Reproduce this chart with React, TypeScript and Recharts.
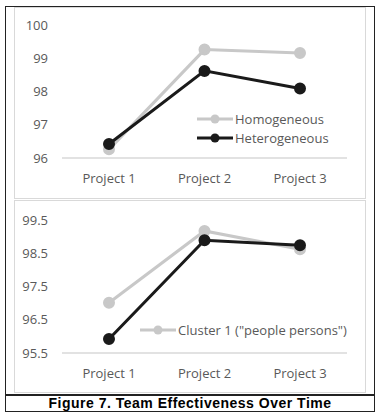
import { LineChart, Line, XAxis, YAxis, Legend } from 'recharts'

const projects = ['Project 1', 'Project 2', 'Project 3']
const homogeneous = [96.26, 99.26, 99.16]
const heterogeneous = [96.42, 98.62, 98.09]
const cluster1 = [97.01, 99.17, 98.62]
const cluster2 = [95.92, 98.89, 98.74]
const topTicks = [96, 97, 98, 99, 100]
const bottomTicks = [95.5, 96.5, 97.5, 98.5, 99.5]

const GRAY = '#c8c8c8'
const BLACK = '#1a1a1a'
const TEXT = '#595959'
const FONT = '"Open Sans", sans-serif'

const topData = projects.map((p, i) => ({ name: p, homogeneous: homogeneous[i], heterogeneous: heterogeneous[i] }))
const bottomData = projects.map((p, i) => ({ name: p, cluster1: cluster1[i], cluster2: cluster2[i] }))

const LegendRows = ({ rows }: { rows: { label: string; color: string }[] }) => (
    <div style={{ fontFamily: FONT, fontSize: 13, color: TEXT }}>
        {rows.map((r) => (
            <div key={r.label} style={{ display: 'flex', alignItems: 'center', height: 19, whiteSpace: 'nowrap' }}>
                <svg width={36} height={10} style={{ marginRight: 2 }}>
                    <line x1={0} y1={5} x2={36} y2={5} stroke={r.color} strokeWidth={3} />
                    <circle cx={18} cy={5} r={4.5} fill={r.color} />
                </svg>
                <span>{r.label}</span>
            </div>
        ))}
    </div>
)

function Panel({ data, keys, ticks, domain, legendRows, legendPos }: any) {
    return (
        <LineChart width={381} height={200} data={data} margin={{ top: 25, right: 34, left: 22, bottom: 12 }}>
            <XAxis
                dataKey="name"
                padding={{ left: 47, right: 47 }}
                axisLine={{ stroke: '#d9d9d9', strokeWidth: 1.5 }}
                tickLine={false}
                tickMargin={10}
                height={30}
                tick={{ fill: TEXT, fontSize: 13, fontFamily: FONT }}
            />
            <YAxis
                type="number"
                domain={domain}
                ticks={ticks}
                axisLine={false}
                tickLine={false}
                width={40}
                tickMargin={8}
                tick={{ fill: TEXT, fontSize: 13, fontFamily: FONT }}
            />
            <Legend
                layout="vertical"
                verticalAlign="middle"
                align="center"
                wrapperStyle={{ left: legendPos[0], top: legendPos[1], width: 'auto' }}
                content={() => <LegendRows rows={legendRows} />}
            />
            <Line dataKey={keys[0]} stroke={GRAY} strokeWidth={3} dot={{ r: 4.5, fill: GRAY, stroke: GRAY }} isAnimationActive={false} />
            <Line dataKey={keys[1]} stroke={BLACK} strokeWidth={3} dot={{ r: 4.5, fill: BLACK, stroke: BLACK }} isAnimationActive={false} />
        </LineChart>
    )
}

export default function App() {
    return (
        <div style={{ position: 'absolute', left: 0, top: 0, width: 381, height: 417, background: '#fff' }}>
            <div style={{ position: 'absolute', left: 5, top: 6, width: 370, height: 406, border: '1px solid #222', boxSizing: 'border-box' }} />
            <div style={{ position: 'absolute', left: 14, top: 7, width: 352, height: 192, border: '1px solid #d9d9d9', boxSizing: 'border-box' }} />
            <div style={{ position: 'absolute', left: 14, top: 200, width: 352, height: 193, border: '1px solid #d9d9d9', boxSizing: 'border-box' }} />
            <div style={{ position: 'absolute', left: 5, top: 394, width: 370, height: 1.5, background: '#222' }} />
            <div style={{ position: 'absolute', left: 0, top: 0 }}>
                <Panel
                    data={topData}
                    keys={['homogeneous', 'heterogeneous']}
                    ticks={topTicks}
                    domain={[96, 100]}
                    legendRows={[{ label: 'Homogeneous', color: GRAY }, { label: 'Heterogeneous', color: BLACK }]}
                    legendPos={[197, 109]}
                />
            </div>
            <div style={{ position: 'absolute', left: 0, top: 195 }}>
                <Panel
                    data={bottomData}
                    keys={['cluster1', 'cluster2']}
                    ticks={bottomTicks}
                    domain={[95.5, 99.5]}
                    legendRows={[{ label: 'Cluster 1 ("people persons")', color: GRAY }]}
                    legendPos={[140, 125]}
                />
            </div>
            <div style={{ position: 'absolute', left: 5, top: 395, width: 370, textAlign: 'center', fontFamily: '"Liberation Sans", Arial, sans-serif', fontWeight: 'bold', fontSize: 14, letterSpacing: 0.5, lineHeight: '17px', color: '#000' }}>
                Figure 7. Team Effectiveness Over Time
            </div>
        </div>
    )
}
